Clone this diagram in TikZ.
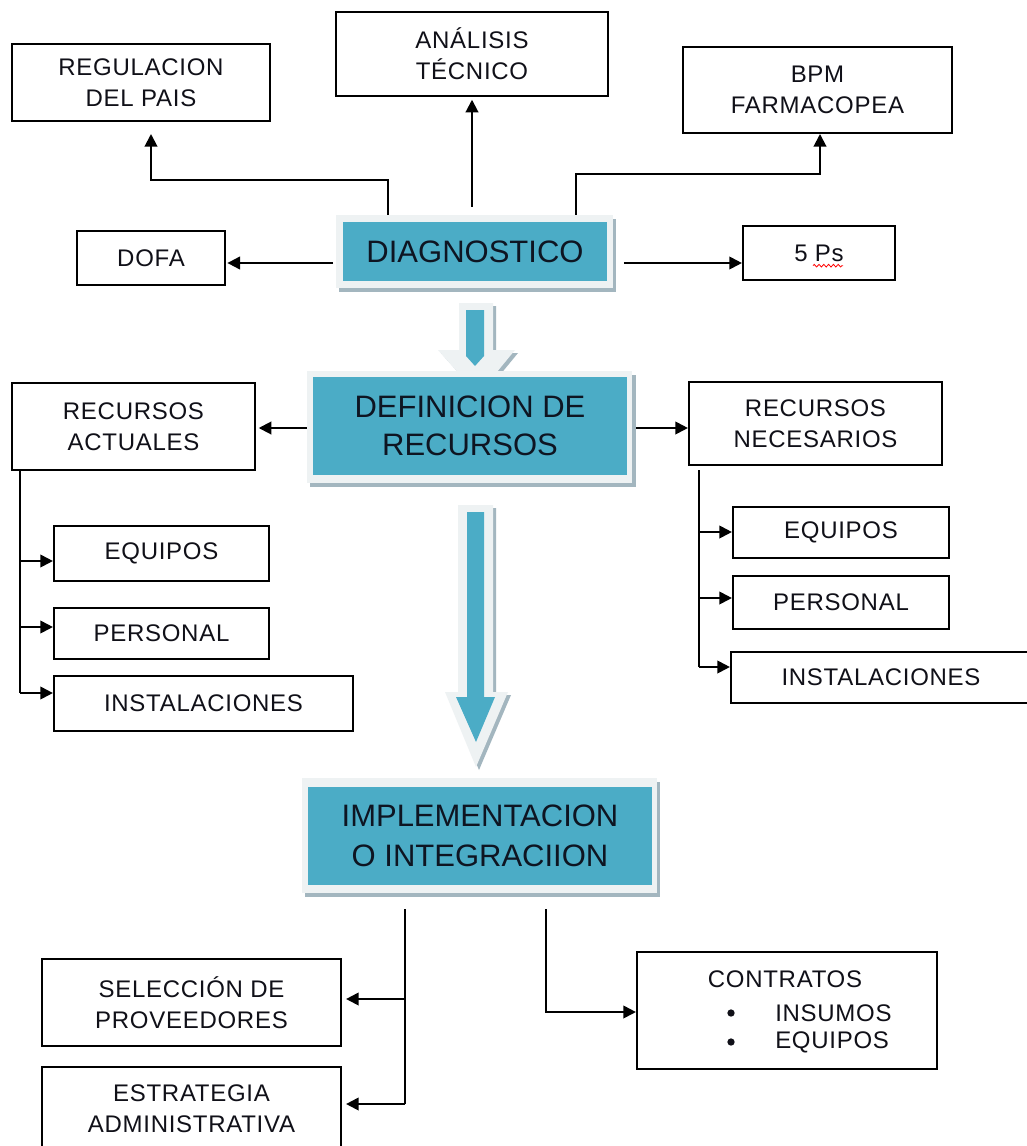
\documentclass[tikz,border=0pt]{standalone}
\usepackage{fontspec}
\setmainfont{Liberation Sans}
\newfontfamily\boxfont[LetterSpace=3]{Liberation Sans}
\usetikzlibrary{fit,arrows.meta,decorations.pathmorphing}
\definecolor{aqua}{HTML}{4BACC6}
\definecolor{framec}{HTML}{EEF2F3}
\definecolor{shadowc}{HTML}{A3B6BF}
\definecolor{txtc}{HTML}{101018}
\definecolor{bigtxt}{HTML}{0E1522}
\begin{document}
\begin{tikzpicture}[x=0.75pt,y=-0.75pt,
  wh/.style 2 args={minimum width=#1*0.75pt, minimum height=#2*0.75pt},
  box/.style={draw=black, line width=1.6pt, inner sep=0pt, fill=white, align=center,
              font=\boxfont\fontsize{18}{23.25}\selectfont, text=txtc},
  txt/.style={inner sep=0pt, align=center, font=\boxfont\fontsize{18}{23.25}\selectfont, text=txtc},
  big/.style={fill=aqua, inner sep=0pt, align=center, text=bigtxt,
              font=\fontsize{23.25}{28.5}\selectfont},
  frm/.style={fill=framec, inner sep=0pt},
  ln/.style={line width=1.5pt},
  arr/.style={line width=1.5pt, -{Triangle[length=9.5pt,width=9.5pt]}},
  bul/.style={circle, fill=txtc, inner sep=0pt, minimum size=5.5pt}
]
\useasboundingbox (0,0) rectangle (1027,1146);
\clip (0,0) rectangle (1027,1146);
\fill[white] (0,0) rectangle (1027,1146);

% ---------- top boxes ----------
\node[box, wh={258}{77}] (reg) at (141,82.5) {REGULACION\\DEL PAIS};
\node[box, wh={272}{84}] (ana) at (472,54) {ANÁLISIS\\TÉCNICO};
\node[box, wh={269}{86}] (bpm) at (817.5,90) {BPM\\FARMACOPEA};
\node[box, wh={148}{54}] (dofa) at (151,258) {DOFA};
\node[box, wh={152}{54}] (five) at (819,253) {5 Ps};
\draw[red, line width=0.6pt, decorate, decoration={zigzag, segment length=3.6pt, amplitude=1pt}]
  ([xshift=-4.5pt,yshift=-9.5pt]five.center) -- ([xshift=18pt,yshift=-9.5pt]five.center);

% ---------- DIAGNOSTICO ----------
\fill[shadowc] (339,219) rectangle (616,292);
\node[frm, wh={277}{73}] (diagf) at (474.5,251.5) {};
\node[big, wh={264}{59}] (diag) at (475,251.5) {DIAGNOSTICO};

\coordinate (yd) at (0,263);
\draw[arr, shorten <=2pt, shorten >=1pt] (diagf.west |- yd) -- (dofa.east |- yd);
\draw[arr, shorten <=8pt] (diagf.east |- yd) -- (five.west |- yd);
\coordinate (r1) at (388,180);
\coordinate (r2) at (151,134);
\draw[arr] (diagf.north -| r1) -- (r1) -| (r2);
\draw[arr, shorten <=6pt, shorten >=2pt] (diagf.north -| ana.south) -- (ana.south);
\coordinate (b1) at (576,174);
\coordinate (b2) at (820,134);
\draw[arr] (diagf.north -| b1) -- (b1) -| (b2);

% ---------- block arrow 1 ----------
\fill[shadowc, shift={(3,3)}] (459,303)--(493,303)--(493,350)--(515,350)--(478,395)--(438,350)--(459,350)--cycle;
\fill[framec] (459,303)--(493,303)--(493,350)--(515,350)--(478,395)--(438,350)--(459,350)--cycle;
\fill[aqua] (466,310)--(484,310)--(484,356)--(475,366)--(466,356)--cycle;

% ---------- DEFINICION DE RECURSOS ----------
\fill[shadowc] (310,375) rectangle (636,487);
\node[frm, wh={325}{112}] (deff) at (469.5,427) {};
\node[big, wh={314}{98}] (def) at (470,426) {DEFINICION DE\\RECURSOS};
\node[box, wh={243}{87}] (act) at (133.5,426.5) {RECURSOS\\ACTUALES};
\node[box, wh={253}{83}] (nec) at (815.5,423.5) {RECURSOS\\NECESARIOS};
\coordinate (ydef) at (0,428);
\draw[arr, shorten >=2pt] (deff.west |- ydef) -- (act.east |- ydef);
\draw[arr, shorten <=3pt] (deff.east |- ydef) -- (nec.west |- ydef);

% left column
\node[box, wh={215}{55}] (eqa) at (161.5,553.5) {EQUIPOS};
\node[box, wh={215}{51}] (pera) at (161.5,633.5) {PERSONAL};
\node[box, wh={299}{55}] (insa) at (203.5,703.5) {INSTALACIONES};
\coordinate (la) at (20,693);
\coordinate (la1) at (20,561);
\coordinate (la2) at (20,627);
\draw[ln] (act.south -| la) -- (la);
\draw[arr] (la1) -- (eqa.west |- la1);
\draw[arr] (la2) -- (pera.west |- la2);
\draw[arr] (la) -- (insa.west |- la);

% right column
\node[box, wh={216}{51}] (eqn) at (841,532.5) {EQUIPOS};
\node[box, wh={216}{53}] (pern) at (841,602.5) {PERSONAL};
\node[box, wh={300}{51}] (insn) at (881,677.5) {INSTALACIONES};
\coordinate (ra) at (699,667);
\coordinate (ra1) at (699,532);
\coordinate (ra2) at (699,598);
\draw[ln, shorten <=3pt] (nec.south -| ra) -- (ra);
\draw[arr] (ra1) -- (eqn.west |- ra1);
\draw[arr] (ra2) -- (pern.west |- ra2);
\draw[arr] (ra) -- (insn.west |- ra);

% ---------- block arrow 2 ----------
\fill[shadowc, shift={(3,3)}] (458,505)--(493,505)--(493,692)--(508,692)--(476,767)--(445,692)--(458,692)--cycle;
\fill[framec] (458,505)--(493,505)--(493,692)--(508,692)--(476,767)--(445,692)--(458,692)--cycle;
\fill[aqua] (467,512)--(484,512)--(484,697)--(495,697)--(476,742)--(456,697)--(467,697)--cycle;

% ---------- IMPLEMENTACION ----------
\fill[shadowc] (305,782) rectangle (660,897);
\node[frm, wh={355}{115}] (impf) at (479.5,835.5) {};
\node[big, font=\fontsize{23.25}{30}\selectfont, wh={344}{98}] (imp) at (480,836) {IMPLEMENTACION\\O INTEGRACIION};

% bottom boxes
\node[box, wh={299}{87}] (sel) at (191.5,1002.5) {SELECCIÓN DE\\PROVEEDORES};
\node[box, fit={(42,1067)(341,1175)}] (est) {};
\node[txt] (estt) at (191.5,1109) {ESTRATEGIA\\ADMINISTRATIVA};
\node[box, fit={(637,952)(937,1069)}] (con) {};
\node[txt] (cont) at (785,979) {CONTRATOS};
\node[bul] (bul1) at (731,1013) {};
\node[bul] (bul2) at (731,1042) {};
\node[txt, anchor=west] (insu) at (775,1013) {INSUMOS};
\node[txt, anchor=west] (equi) at (775,1042) {EQUIPOS};

\coordinate (lb) at (405,1104);
\coordinate (lb1) at (405,999);
\draw[ln, shorten <=12pt] (impf.south -| lb) -- (lb);
\draw[arr, shorten >=3pt] (lb1) -- (sel.east |- lb1);
\draw[arr, shorten >=3pt] (lb) -- (est.east |- lb);
\coordinate (rb) at (546,1012);
\draw[arr, shorten <=12pt] (impf.south -| rb) -- (rb) -- (con.west |- rb);
\end{tikzpicture}
\end{document}
